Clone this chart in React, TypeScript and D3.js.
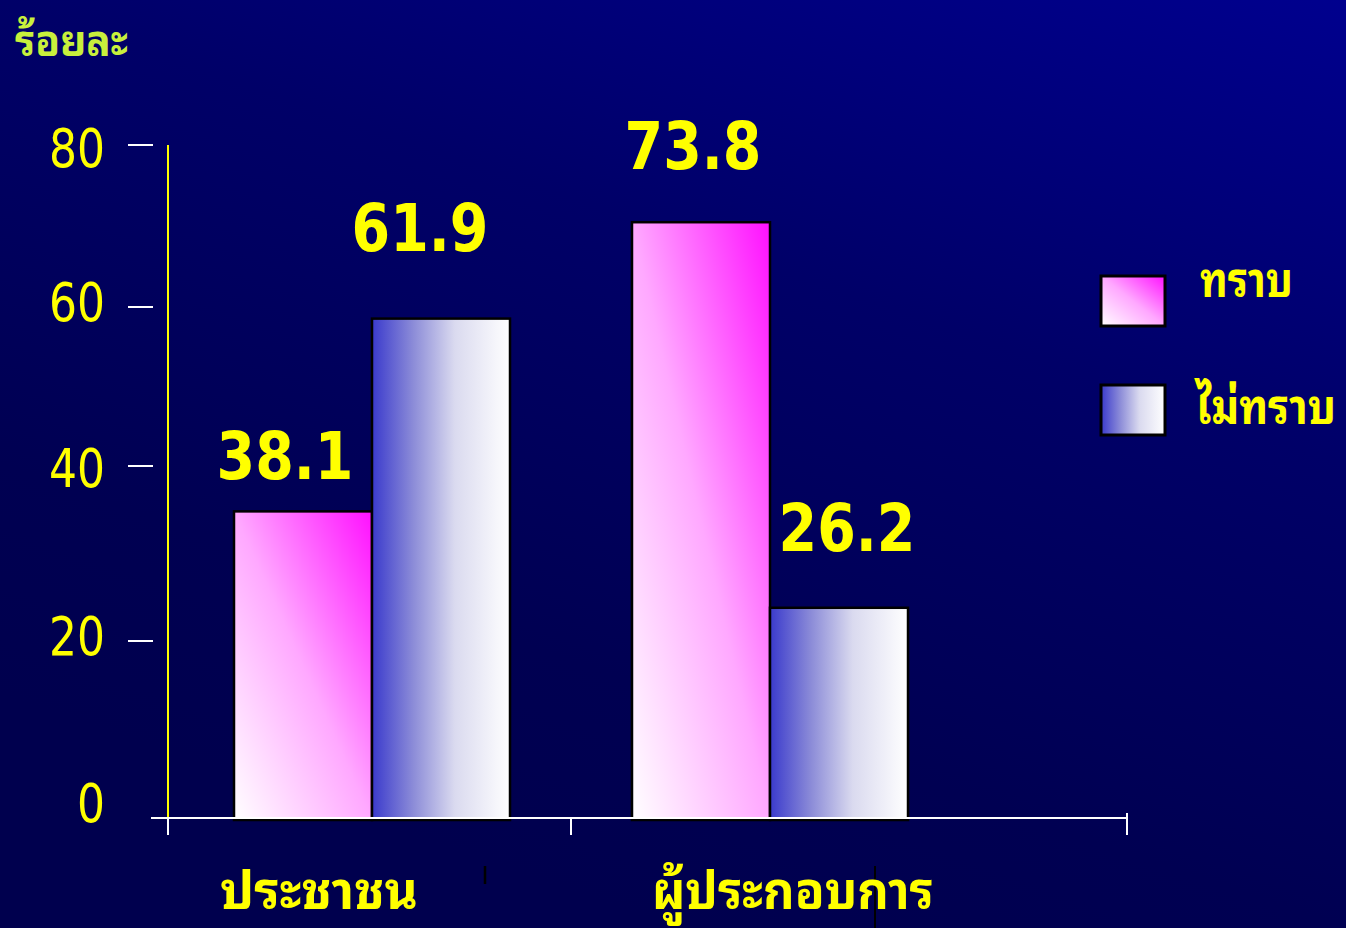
import React from "react";
import * as d3 from "d3";

const categories = ["ประชาชน", "ผู้ประกอบการ"];
const seriesNames = ["ทราบ", "ไม่ทราบ"];
const knowValues = [38.1, 73.8];
const dontKnowValues = [61.9, 26.2];
const yTickValues = [0, 20, 40, 60, 80];
const yTickLabels = ["0", "20", "40", "60", "80"];
const yTitle = "ร้อยละ";

// label nudges (px) for value labels: [series][category]
const valueLabelDx = [[-87, -77], [48, 77]];
const valueLabelDy = [[-32, -53], [-68, -57]];
const catLabelDx = [-53, 23];
const catLabelWidth = [198, 282];
const legendLabelWidth = [93, 140];
const tickLabelDy = [-15, -5, 2, -5, 3];

const W = 1346;
const H = 928;
const THAI = "'Noto Sans Thai Looped', 'Noto Serif Thai', Loma, Garuda, Kinnari, Tahoma, 'Noto Sans Thai', 'DejaVu Sans', sans-serif";
const NUM = "'DejaVu Sans', Verdana, sans-serif";

export default function App() {
  const axisX = 168;
  const axisRight = 1127;
  const baseY = 818;
  const barW = 138;

  // axis ticks (hand-spaced in the original)
  const yAxis = d3.scaleLinear().domain(yTickValues).range([818, 641, 466, 307, 145]);
  // bar heights
  const yBar = d3.scaleLinear().domain([0, 100]).range([820, 10]);
  const xGroup = d3.scalePoint<string>().domain(categories).range([372, 770]);
  const xInner = d3.scaleBand<string>().domain(seriesNames).range([-barW, barW]);

  const seriesData = [knowValues, dontKnowValues];
  const fills = ["url(#gPink)", "url(#gBlue)"];
  const midTick = ((xGroup(categories[0]) as number) + (xGroup(categories[1]) as number)) / 2;

  return (
    <svg width={W} height={H} style={{ position: "absolute", left: 0, top: 0, display: "block" }}>
      <defs>
        <linearGradient id="gBg" x1="0.5" y1="1" x2="1" y2="0">
          <stop offset="0" stopColor="#00004e" />
          <stop offset="0.2" stopColor="#000052" />
          <stop offset="0.6" stopColor="#000068" />
          <stop offset="1" stopColor="#00008e" />
        </linearGradient>
        <linearGradient id="gPink" x1="0" y1="1" x2="1" y2="0">
          <stop offset="0" stopColor="#ffffff" />
          <stop offset="0.5" stopColor="#ffa8ff" />
          <stop offset="1" stopColor="#ff10ff" />
        </linearGradient>
        <linearGradient id="gBlue" x1="0" y1="0" x2="1" y2="0">
          <stop offset="0" stopColor="#3a3acc" />
          <stop offset="0.3" stopColor="#8c8cd8" />
          <stop offset="0.6" stopColor="#dadaef" />
          <stop offset="1" stopColor="#ffffff" />
        </linearGradient>
      </defs>
      <rect x={0} y={0} width={W} height={H} fill="url(#gBg)" />

      {/* y title */}
      <text x={15} y={56} fill="#c8f03c" fontFamily={THAI} fontWeight="bold" fontSize={44}
        textLength={113} lengthAdjust="spacingAndGlyphs">
        {yTitle}
      </text>

      {/* bars */}
      {seriesData.map((vals, si) =>
        vals.map((v, ci) => {
          const x = (xGroup(categories[ci]) as number) + (xInner(seriesNames[si]) as number);
          const y = yBar(v);
          return (
            <rect
              key={`b${si}-${ci}`}
              x={x}
              y={y}
              width={xInner.bandwidth()}
              height={yBar(0) - y}
              fill={fills[si]}
              stroke="#000000"
              strokeWidth={2.5}
            />
          );
        })
      )}

      {/* y axis */}
      <line x1={axisX} x2={axisX} y1={yAxis(80)} y2={baseY} stroke="#ffff00" strokeWidth={2} />
      {yTickValues.filter((t) => t > 0).map((t) => (
        <line key={`t${t}`} x1={128} x2={153} y1={yAxis(t)} y2={yAxis(t)} stroke="#ffffff" strokeWidth={2} />
      ))}
      {yTickValues.map((t, i) => (
        <text
          key={`l${t}`}
          x={105}
          y={yAxis(t) + tickLabelDy[i]}
          dy="0.36em"
          textAnchor="end"
          fill="#ffff00"
          fontFamily={NUM}
          fontSize={53}
          textLength={yTickLabels[i].length * 28}
          lengthAdjust="spacingAndGlyphs"
        >
          {yTickLabels[i]}
        </text>
      ))}

      {/* x axis */}
      <line x1={151} x2={axisRight} y1={baseY} y2={baseY} stroke="#ffffff" strokeWidth={2} />
      {[axisX, midTick, axisRight].map((x, i) => (
        <line key={`xt${i}`} x1={x} x2={x} y1={i === 2 ? baseY - 5 : baseY} y2={baseY + 17} stroke="#ffffff" strokeWidth={2} />
      ))}

      {/* stray black strokes from original */}
      <line x1={(xGroup(categories[0]) as number) + 113} x2={(xGroup(categories[0]) as number) + 113} y1={866} y2={884} stroke="#000000" strokeWidth={2.5} />
      <line x1={(xGroup(categories[1]) as number) + 105} x2={(xGroup(categories[1]) as number) + 105} y1={866} y2={928} stroke="#000000" strokeWidth={2} />

      {/* value labels */}
      {seriesData.map((vals, si) =>
        vals.map((v, ci) => {
          const cx = (xGroup(categories[ci]) as number) + valueLabelDx[si][ci];
          return (
            <text
              key={`v${si}-${ci}`}
              x={cx}
              y={yBar(v) + valueLabelDy[si][ci]}
              textAnchor="middle"
              fill="#ffff00"
              fontFamily={NUM}
              fontWeight="bold"
              fontSize={66}
              textLength={137}
              lengthAdjust="spacingAndGlyphs"
            >
              {v.toFixed(1)}
            </text>
          );
        })
      )}

      {/* category labels */}
      {categories.map((c, ci) => (
        <text
          key={`c${ci}`}
          x={(xGroup(c) as number) + catLabelDx[ci] - catLabelWidth[ci] / 2}
          y={909}
          fill="#ffff00"
          fontFamily={THAI}
          fontWeight="bold"
          fontSize={52}
          textLength={catLabelWidth[ci]}
          lengthAdjust="spacingAndGlyphs"
        >
          {c}
        </text>
      ))}

      {/* legend */}
      {seriesNames.map((s, i) => (
        <g key={`lg${i}`} transform={`translate(1101, ${276 + i * 109})`}>
          <rect x={0} y={0} width={64} height={50} fill={fills[i]} stroke="#000000" strokeWidth={3} />
          <text
            x={i === 0 ? 99 : 95}
            y={21 + i * 18}
            fill="#ffff00"
            fontFamily={THAI}
            fontWeight="bold"
            fontSize={48}
            textLength={legendLabelWidth[i]}
            lengthAdjust="spacingAndGlyphs"
          >
            {s}
          </text>
        </g>
      ))}
    </svg>
  );
}
